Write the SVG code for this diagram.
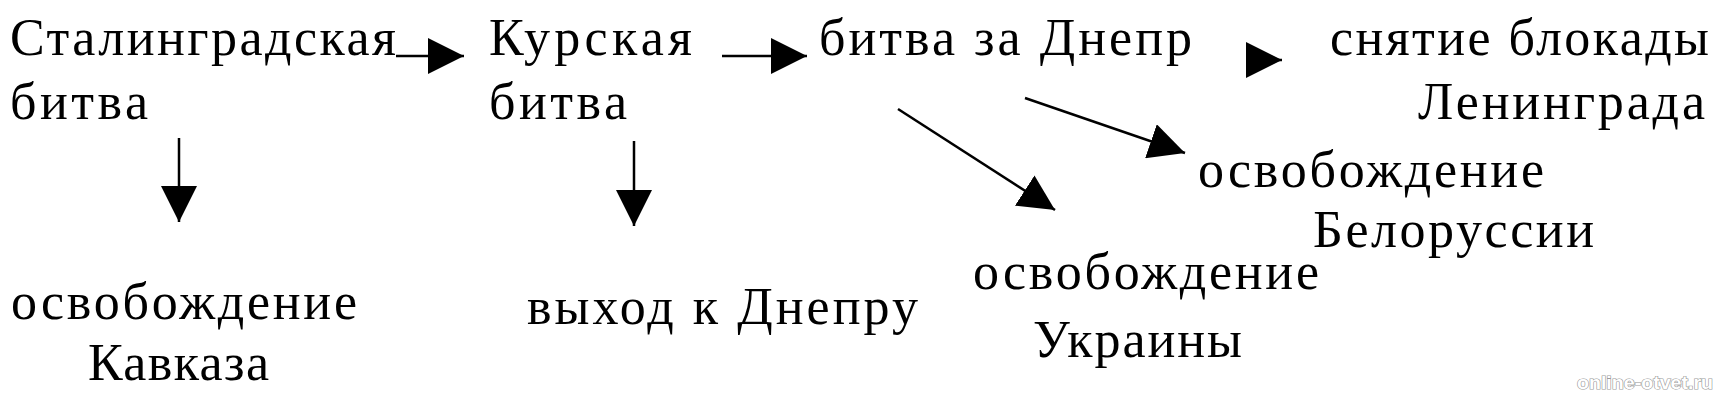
<svg xmlns="http://www.w3.org/2000/svg" width="1723" height="400" viewBox="0 0 1723 400">
<defs>
<style>
text.t{font-family:'Liberation Serif','Times New Roman',serif;font-size:52px;fill:#000;}
.c{stroke:#000;stroke-width:2.5;fill:none;}
text.wm{font-family:'Liberation Sans',Arial,sans-serif;font-size:18px;font-weight:bold;fill:#fff;stroke:#9a9a9a;stroke-width:1.2px;paint-order:stroke;}
</style>
<marker id="ah" markerUnits="userSpaceOnUse" markerWidth="36" markerHeight="36" refX="34" refY="17" orient="auto" viewBox="0 0 34 34">
<path d="M0,0 L34,17 L0,34 Z" fill="#000"/>
</marker>
</defs>
<rect x="0" y="0" width="1723" height="400" fill="#fff"/>
<g id="connectors">
<line class="c" x1="396" y1="56" x2="464" y2="56" marker-end="url(#ah)"/>
<line class="c" x1="722" y1="56" x2="807" y2="56" marker-end="url(#ah)"/>
<line class="c" x1="1246" y1="60" x2="1282" y2="60" marker-end="url(#ah)"/>
<line class="c" x1="179" y1="138" x2="179" y2="222" marker-end="url(#ah)"/>
<line class="c" x1="634" y1="141" x2="634" y2="226" marker-end="url(#ah)"/>
<line class="c" x1="898" y1="109" x2="1055" y2="210" marker-end="url(#ah)"/>
<line class="c" x1="1025" y1="98" x2="1185" y2="153" marker-end="url(#ah)"/>
</g>
<g id="stalingrad">
<text class="t" x="10" y="55" textLength="386" lengthAdjust="spacing">Сталинградская</text>
<text class="t" x="10" y="119" textLength="138" lengthAdjust="spacing">битва</text>
</g>
<g id="kursk">
<text class="t" x="489" y="55" textLength="203" lengthAdjust="spacing">Курская</text>
<text class="t" x="489" y="119" textLength="138" lengthAdjust="spacing">битва</text>
</g>
<g id="dnepr">
<text class="t" x="819" y="55" textLength="373" lengthAdjust="spacing">битва за Днепр</text>
</g>
<g id="leningrad">
<text class="t" x="1330" y="55" textLength="379" lengthAdjust="spacing">снятие блокады</text>
<text class="t" x="1418" y="119" textLength="287" lengthAdjust="spacing">Ленинграда</text>
</g>
<g id="belarus">
<text class="t" x="1198" y="187" textLength="346" lengthAdjust="spacing">освобождение</text>
<text class="t" x="1313" y="247" textLength="281" lengthAdjust="spacing">Белоруссии</text>
</g>
<g id="ukraine">
<text class="t" x="973" y="289" textLength="346" lengthAdjust="spacing">освобождение</text>
<text class="t" x="1033" y="357" textLength="209" lengthAdjust="spacing">Украины</text>
</g>
<g id="caucasus">
<text class="t" x="11" y="319" textLength="346" lengthAdjust="spacing">освобождение</text>
<text class="t" x="88" y="380" textLength="181" lengthAdjust="spacing">Кавказа</text>
</g>
<g id="dnepr-exit">
<text class="t" x="527" y="324" textLength="391" lengthAdjust="spacing">выход к Днепру</text>
</g>
<text class="wm" x="1577" y="389" textLength="136" lengthAdjust="spacingAndGlyphs">online-otvet.ru</text>
</svg>
